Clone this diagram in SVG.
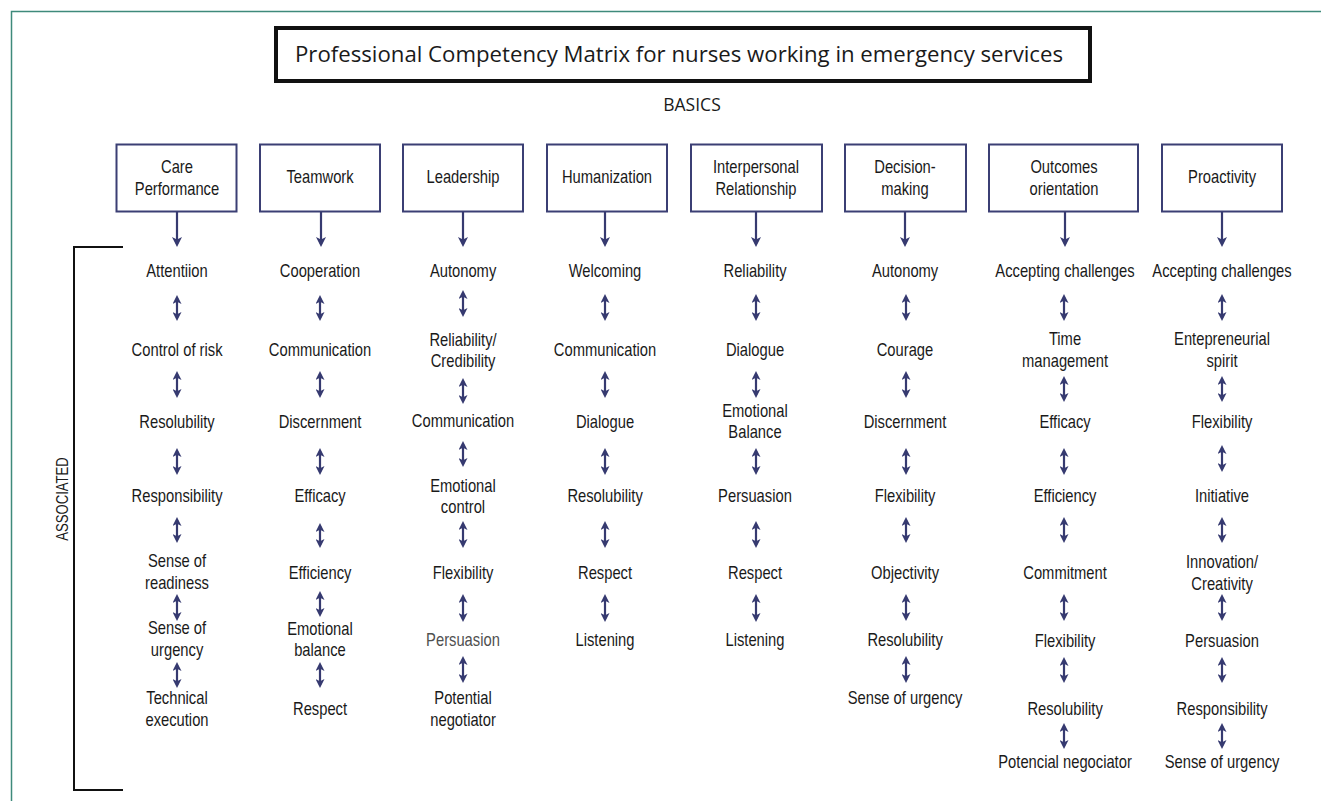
<svg xmlns="http://www.w3.org/2000/svg" width="1321" height="801" viewBox="0 0 1321 801">
<style>
.n{font-family:'Liberation Sans Narrow','Arial Narrow','Liberation Sans',Arial,sans-serif;font-size:18px;fill:#1a1a1a;text-anchor:middle}
.t{font-family:'Liberation Sans Narrow','Arial Narrow','Liberation Sans',Arial,sans-serif;font-size:18px;fill:#1a1a1a;text-anchor:middle;transform-box:fill-box;transform-origin:center;transform:scaleX(0.82)}
.g{fill:#505050}
.box{fill:#fff;stroke:#3b3f74;stroke-width:2}
.ln{stroke:#363a70;stroke-width:2.2;fill:none}
.d{marker-start:url(#dh);marker-end:url(#dh)}
.s{marker-end:url(#ah)}
</style>
<defs>
<marker id="ah" viewBox="0 0 10 10" refX="7" refY="5" markerWidth="10" markerHeight="10" markerUnits="userSpaceOnUse" orient="auto"><path d="M0,0 L10,5 L0,10 L2.5,5 z" fill="#363a70"/></marker>
<marker id="dh" viewBox="0 0 10 10" refX="7" refY="5" markerWidth="9" markerHeight="9" markerUnits="userSpaceOnUse" orient="auto-start-reverse"><path d="M0,0 L10,5 L0,10 L2.5,5 z" fill="#363a70"/></marker>
</defs>
<rect width="1321" height="801" fill="#fff"/>
<g id="frame">
<path d="M11.5,801 V11.5 H1321" fill="none" stroke="#3f8a7b" stroke-width="1.5"/>
</g>
<g id="title">
<rect x="276" y="28" width="814" height="53" fill="#fff" stroke="#111" stroke-width="4"/>
<text x="679" y="62" textLength="768" lengthAdjust="spacingAndGlyphs" style="font-family:'Open Sans','Noto Sans',sans-serif;font-size:22.5px;fill:#1a1a1a;text-anchor:middle">Professional Competency Matrix for nurses working in emergency services</text>
</g>
<g id="basics"><text x="692" y="111" style="font-family:'Open Sans','Noto Sans',sans-serif;font-size:17.5px;fill:#1a1a1a;text-anchor:middle">BASICS</text></g>
<g id="associated">
<path d="M123,247 H74 V790 H123" fill="none" stroke="#111" stroke-width="2"/>
<text class="n" transform="translate(68,499) rotate(-90) scale(0.82,1)" style="font-size:16px">ASSOCIATED</text>
</g>

<g id="b-care"><rect class="box" x="116.5" y="144.5" width="120" height="67"/><text class="t" x="177" y="173">Care</text><text class="t" x="177" y="195">Performance</text></g>
<g id="b-team"><rect class="box" x="260" y="144.5" width="120" height="67"/><text class="t" x="320" y="183">Teamwork</text></g>
<g id="b-lead"><rect class="box" x="403" y="144.5" width="120" height="67"/><text class="t" x="463" y="183">Leadership</text></g>
<g id="b-human"><rect class="box" x="547" y="144.5" width="120" height="67"/><text class="t" x="607" y="183">Humanization</text></g>
<g id="b-inter"><rect class="box" x="691" y="144.5" width="131" height="67"/><text class="t" x="756" y="173">Interpersonal</text><text class="t" x="756" y="195">Relationship</text></g>
<g id="b-dec"><rect class="box" x="845" y="144.5" width="121" height="67"/><text class="t" x="905" y="173">Decision-</text><text class="t" x="905" y="195">making</text></g>
<g id="b-out"><rect class="box" x="989" y="144.5" width="149" height="67"/><text class="t" x="1064" y="173">Outcomes</text><text class="t" x="1064" y="195">orientation</text></g>
<g id="b-pro"><rect class="box" x="1162" y="144.5" width="120" height="67"/><text class="t" x="1222" y="183">Proactivity</text></g>

<g id="col-care">
<g id="care-1"><text class="t" x="177" y="277">Attentiion</text></g>
<g id="care-2"><text class="t" x="177" y="356">Control of risk</text></g>
<g id="care-3"><text class="t" x="177" y="428">Resolubility</text></g>
<g id="care-4"><text class="t" x="177" y="502">Responsibility</text></g>
<g id="care-5"><text class="t" x="177" y="567">Sense of</text><text class="t" x="177" y="589">readiness</text></g>
<g id="care-6"><text class="t" x="177" y="634">Sense of</text><text class="t" x="177" y="656">urgency</text></g>
<g id="care-7"><text class="t" x="177" y="704">Technical</text><text class="t" x="177" y="726">execution</text></g>
</g>
<g id="col-team">
<g id="team-1"><text class="t" x="320" y="277">Cooperation</text></g>
<g id="team-2"><text class="t" x="320" y="356">Communication</text></g>
<g id="team-3"><text class="t" x="320" y="428">Discernment</text></g>
<g id="team-4"><text class="t" x="320" y="502">Efficacy</text></g>
<g id="team-5"><text class="t" x="320" y="579">Efficiency</text></g>
<g id="team-6"><text class="t" x="320" y="635">Emotional</text><text class="t" x="320" y="656">balance</text></g>
<g id="team-7"><text class="t" x="320" y="715">Respect</text></g>
</g>
<g id="col-lead">
<g id="lead-1"><text class="t" x="463" y="277">Autonomy</text></g>
<g id="lead-2"><text class="t" x="463" y="346">Reliability/</text><text class="t" x="463" y="367">Credibility</text></g>
<g id="lead-3"><text class="t" x="463" y="427">Communication</text></g>
<g id="lead-4"><text class="t" x="463" y="492">Emotional</text><text class="t" x="463" y="513">control</text></g>
<g id="lead-5"><text class="t" x="463" y="579">Flexibility</text></g>
<g id="lead-6"><text class="t g" x="463" y="646">Persuasion</text></g>
<g id="lead-7"><text class="t" x="463" y="704">Potential</text><text class="t" x="463" y="726">negotiator</text></g>
</g>
<g id="col-human">
<g id="human-1"><text class="t" x="605" y="277">Welcoming</text></g>
<g id="human-2"><text class="t" x="605" y="356">Communication</text></g>
<g id="human-3"><text class="t" x="605" y="428">Dialogue</text></g>
<g id="human-4"><text class="t" x="605" y="502">Resolubility</text></g>
<g id="human-5"><text class="t" x="605" y="579">Respect</text></g>
<g id="human-6"><text class="t" x="605" y="646">Listening</text></g>
</g>
<g id="col-inter">
<g id="inter-1"><text class="t" x="755" y="277">Reliability</text></g>
<g id="inter-2"><text class="t" x="755" y="356">Dialogue</text></g>
<g id="inter-3"><text class="t" x="755" y="417">Emotional</text><text class="t" x="755" y="438">Balance</text></g>
<g id="inter-4"><text class="t" x="755" y="502">Persuasion</text></g>
<g id="inter-5"><text class="t" x="755" y="579">Respect</text></g>
<g id="inter-6"><text class="t" x="755" y="646">Listening</text></g>
</g>
<g id="col-dec">
<g id="dec-1"><text class="t" x="905" y="277">Autonomy</text></g>
<g id="dec-2"><text class="t" x="905" y="356">Courage</text></g>
<g id="dec-3"><text class="t" x="905" y="428">Discernment</text></g>
<g id="dec-4"><text class="t" x="905" y="502">Flexibility</text></g>
<g id="dec-5"><text class="t" x="905" y="579">Objectivity</text></g>
<g id="dec-6"><text class="t" x="905" y="646">Resolubility</text></g>
<g id="dec-7"><text class="t" x="905" y="704">Sense of urgency</text></g>
</g>
<g id="col-out">
<g id="out-1"><text class="t" x="1065" y="277">Accepting challenges</text></g>
<g id="out-2"><text class="t" x="1065" y="345">Time</text><text class="t" x="1065" y="367">management</text></g>
<g id="out-3"><text class="t" x="1065" y="428">Efficacy</text></g>
<g id="out-4"><text class="t" x="1065" y="502">Efficiency</text></g>
<g id="out-5"><text class="t" x="1065" y="579">Commitment</text></g>
<g id="out-6"><text class="t" x="1065" y="647">Flexibility</text></g>
<g id="out-7"><text class="t" x="1065" y="715">Resolubility</text></g>
<g id="out-8"><text class="t" x="1065" y="768">Potencial negociator</text></g>
</g>
<g id="col-pro">
<g id="pro-1"><text class="t" x="1222" y="277">Accepting challenges</text></g>
<g id="pro-2"><text class="t" x="1222" y="345">Entepreneurial</text><text class="t" x="1222" y="367">spirit</text></g>
<g id="pro-3"><text class="t" x="1222" y="428">Flexibility</text></g>
<g id="pro-4"><text class="t" x="1222" y="502">Initiative</text></g>
<g id="pro-5"><text class="t" x="1222" y="568">Innovation/</text><text class="t" x="1222" y="590">Creativity</text></g>
<g id="pro-6"><text class="t" x="1222" y="647">Persuasion</text></g>
<g id="pro-7"><text class="t" x="1222" y="715">Responsibility</text></g>
<g id="pro-8"><text class="t" x="1222" y="768">Sense of urgency</text></g>
</g>

<g id="connectors">
<path class="ln s" d="M177,212 V244"/>
<path class="ln s" d="M321,212 V244"/>
<path class="ln s" d="M463,212 V244"/>
<path class="ln s" d="M605,212 V244"/>
<path class="ln s" d="M756,212 V244"/>
<path class="ln s" d="M905,212 V244"/>
<path class="ln s" d="M1065,212 V244"/>
<path class="ln s" d="M1222,212 V244"/>

<path class="ln d" d="M177,297.7 V318.3"/>
<path class="ln d" d="M177,373.7 V395.3"/>
<path class="ln d" d="M177,450.7 V472.3"/>
<path class="ln d" d="M177,519.7 V540.3"/>
<path class="ln d" d="M177,596.7 V618.3"/>
<path class="ln d" d="M177,664.7 V685.3"/>

<path class="ln d" d="M320,297.7 V318.3"/>
<path class="ln d" d="M320,373.7 V395.3"/>
<path class="ln d" d="M320,450.7 V472.3"/>
<path class="ln d" d="M320,525.7 V545.3"/>
<path class="ln d" d="M320,593.7 V614.3"/>
<path class="ln d" d="M320,664.7 V685.3"/>

<path class="ln d" d="M463,292.7 V314.3"/>
<path class="ln d" d="M463,380.7 V401.3"/>
<path class="ln d" d="M463,443.7 V464.3"/>
<path class="ln d" d="M463,523.7 V545.3"/>
<path class="ln d" d="M463,596.7 V619.3"/>
<path class="ln d" d="M463,658.7 V680.3"/>

<path class="ln d" d="M605,296.7 V318.3"/>
<path class="ln d" d="M605,373.7 V395.3"/>
<path class="ln d" d="M605,450.7 V472.3"/>
<path class="ln d" d="M605,523.7 V545.3"/>
<path class="ln d" d="M605,596.7 V619.3"/>

<path class="ln d" d="M756,296.7 V318.3"/>
<path class="ln d" d="M756,373.7 V395.3"/>
<path class="ln d" d="M756,450.7 V472.3"/>
<path class="ln d" d="M756,523.7 V545.3"/>
<path class="ln d" d="M756,596.7 V619.3"/>

<path class="ln d" d="M906,296.7 V318.3"/>
<path class="ln d" d="M906,373.7 V395.3"/>
<path class="ln d" d="M906,450.7 V472.3"/>
<path class="ln d" d="M906,519.7 V540.3"/>
<path class="ln d" d="M906,596.7 V618.3"/>
<path class="ln d" d="M906,658.7 V680.3"/>

<path class="ln d" d="M1064,296.7 V318.3"/>
<path class="ln d" d="M1064,378.7 V399.3"/>
<path class="ln d" d="M1064,450.7 V472.3"/>
<path class="ln d" d="M1064,519.7 V540.3"/>
<path class="ln d" d="M1064,596.7 V618.3"/>
<path class="ln d" d="M1064,659.7 V680.3"/>
<path class="ln d" d="M1064,725.7 V746.3"/>

<path class="ln d" d="M1222,296.7 V318.3"/>
<path class="ln d" d="M1222,378.7 V399.3"/>
<path class="ln d" d="M1222,447.7 V469.3"/>
<path class="ln d" d="M1222,519.7 V540.3"/>
<path class="ln d" d="M1222,596.7 V618.3"/>
<path class="ln d" d="M1222,659.7 V680.3"/>
<path class="ln d" d="M1222,725.7 V746.3"/>
</g>
</svg>
